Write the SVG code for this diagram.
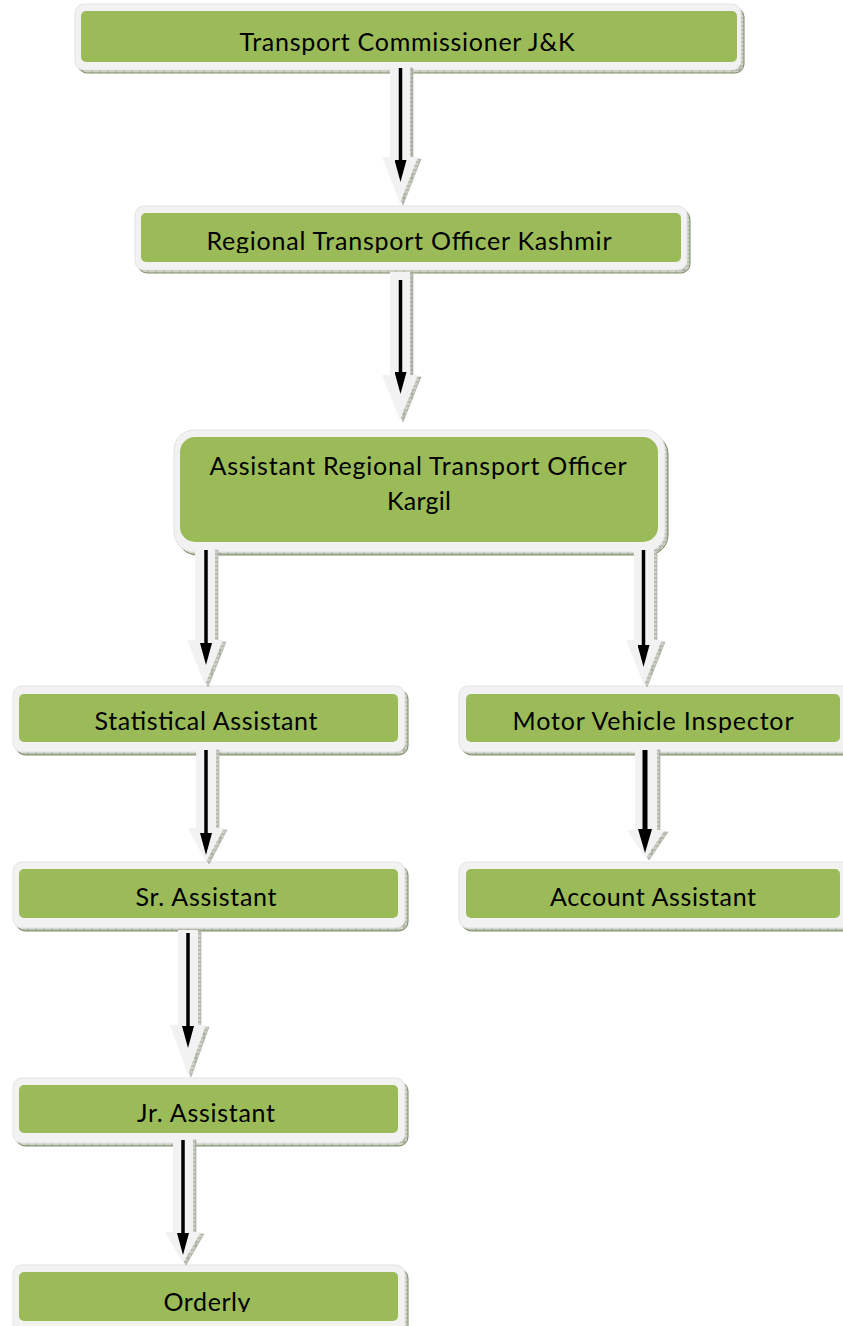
<svg xmlns="http://www.w3.org/2000/svg" width="843" height="1326" viewBox="0 0 843 1326">
<defs>
<style>
.shadow{fill:url(#hatch);stroke:#7d8c66;stroke-width:1}
.outer{fill:#f2f2f2;stroke:#e3e3e3;stroke-width:1}
.inner{fill:#9bbb59}
.lbl{font-family:Lato,"Open Sans","Liberation Sans",sans-serif;font-size:25px;fill:#000;text-anchor:middle}
.blk{fill:#f2f2f2}
.blks{fill:url(#hatch);stroke:#a8a8a8;stroke-width:0.6}
.line{stroke:#000;stroke-width:3.5;fill:none;marker-end:url(#head)}
.line2{stroke:#000;stroke-width:5;fill:none;marker-end:url(#head2)}
</style>
<pattern id="hatch" width="8" height="4" patternUnits="userSpaceOnUse">
<rect width="8" height="4" fill="#cfd2c7"/>
<path d="M0 2H8M4 0V4" stroke="#8a9480" stroke-width="0.7"/>
</pattern>
<marker id="head" viewBox="0 -6 22 12" refX="0" refY="0" markerWidth="22" markerHeight="12" markerUnits="userSpaceOnUse" orient="auto">
<path d="M0 -6L22 0L0 6Z" fill="#000"/>
</marker>
<marker id="head2" viewBox="0 -7 24 14" refX="0" refY="0" markerWidth="24" markerHeight="14" markerUnits="userSpaceOnUse" orient="auto">
<path d="M0 -7L24 0L0 7Z" fill="#000"/>
</marker>
<clipPath id="c1"><rect x="81" y="11" width="656" height="44"/></clipPath>
<clipPath id="c2"><rect x="141" y="213" width="540" height="40"/></clipPath>
<clipPath id="c5"><rect x="466" y="694" width="374" height="39"/></clipPath>
<clipPath id="c9"><rect x="19" y="1272" width="379" height="40"/></clipPath>
</defs>
<rect width="843" height="1326" fill="#fff"/>

<g id="n1">
<rect class="shadow" x="78" y="8" width="666" height="65" rx="9"/>
<rect class="outer" x="75" y="4" width="666" height="66" rx="9"/>
<rect class="inner" x="81" y="11" width="656" height="51" rx="5"/>
<text class="lbl" x="407" y="51" textLength="335" clip-path="url(#c1)">Transport Commissioner J&amp;K</text>
</g>

<g id="n2">
<rect class="shadow" x="138" y="210" width="552" height="63" rx="9"/>
<rect class="outer" x="135" y="206" width="552" height="64" rx="9"/>
<rect class="inner" x="141" y="213" width="540" height="49" rx="5"/>
<text class="lbl" x="409" y="250" textLength="405" clip-path="url(#c2)">Regional Transport Officer Kashmir</text>
</g>

<g id="n3">
<rect class="shadow" x="177" y="434" width="491" height="121" rx="20"/>
<rect class="outer" x="174" y="430" width="491" height="122" rx="20"/>
<rect class="inner" x="180" y="437" width="478" height="105" rx="15"/>
<text class="lbl" x="418" y="475" textLength="417">Assistant Regional Transport Officer</text>
<text class="lbl" x="419" y="510" textLength="64">Kargil</text>
</g>

<g id="n4">
<rect class="shadow" x="16" y="690" width="392" height="65" rx="9"/>
<rect class="outer" x="13" y="686" width="392" height="66" rx="9"/>
<rect class="inner" x="19" y="694" width="379" height="48" rx="5"/>
<text class="lbl" x="206" y="730" textLength="223">Statistical Assistant</text>
</g>

<g id="n5">
<rect class="shadow" x="462" y="690" width="392" height="65" rx="9"/>
<rect class="outer" x="459" y="686" width="392" height="66" rx="9"/>
<rect class="inner" x="466" y="694" width="374" height="48" rx="5"/>
<text class="lbl" x="653" y="730" textLength="281" clip-path="url(#c5)">Motor Vehicle Inspector</text>
</g>

<g id="n6">
<rect class="shadow" x="16" y="866" width="392" height="65" rx="9"/>
<rect class="outer" x="13" y="862" width="392" height="66" rx="9"/>
<rect class="inner" x="19" y="869" width="379" height="49" rx="5"/>
<text class="lbl" x="206" y="906" textLength="141">Sr. Assistant</text>
</g>

<g id="n7">
<rect class="shadow" x="462" y="866" width="392" height="65" rx="9"/>
<rect class="outer" x="459" y="862" width="392" height="66" rx="9"/>
<rect class="inner" x="466" y="869" width="374" height="49" rx="5"/>
<text class="lbl" x="653" y="906" textLength="206">Account Assistant</text>
</g>

<g id="n8">
<rect class="shadow" x="16" y="1082" width="392" height="64" rx="9"/>
<rect class="outer" x="13" y="1078" width="392" height="65" rx="9"/>
<rect class="inner" x="19" y="1085" width="379" height="48" rx="5"/>
<text class="lbl" x="206" y="1122" textLength="138">Jr. Assistant</text>
</g>

<g id="n9">
<rect class="shadow" x="16" y="1269" width="392" height="70" rx="9"/>
<rect class="outer" x="13" y="1265" width="392" height="70" rx="9"/>
<rect class="inner" x="19" y="1272" width="379" height="49" rx="5"/>
<text class="lbl" x="207" y="1311" textLength="87" clip-path="url(#c9)">Orderly</text>
</g>

<g id="connectors">
<path class="blks" d="M393 68H413V159H421L403 205L385 159H393Z"/>
<path class="blk" d="M390 66H410V157H418L400 203L382 157H390Z"/>
<path class="line" d="M400.5 68V160"/>
<path class="blks" d="M393 274H413V377H421L403 422L385 377H393Z"/>
<path class="blk" d="M390 272H410V375H418L400 420L382 375H390Z"/>
<path class="line" d="M400.5 280V372"/>
<path class="blks" d="M198 550H218V642H226L208 687L190 642H198Z"/>
<path class="blk" d="M195 548H215V640H223L205 685L187 640H195Z"/>
<path class="line" d="M206 550V643"/>
<path class="blks" d="M637 550H657V642H665L647 687L629 642H637Z"/>
<path class="blk" d="M634 548H654V640H662L644 685L626 640H634Z"/>
<path class="line" d="M643.5 550V645"/>
<path class="blks" d="M199 750H219V830H227L209 864L191 830H199Z"/>
<path class="blk" d="M196 748H216V828H224L206 862L188 828H196Z"/>
<path class="line" d="M206 750V833"/>
<path class="blks" d="M638 750H660V832H668L649 860L630 832H638Z"/>
<path class="blk" d="M635 748H657V830H665L646 858L627 830H635Z"/>
<path class="line2" d="M645 750V829"/>
<path class="blks" d="M181 932H201V1027H209L191 1077L173 1027H181Z"/>
<path class="blk" d="M178 930H198V1025H206L188 1075L170 1025H178Z"/>
<path class="line" d="M188 933V1026"/>
<path class="blks" d="M176 1140H196V1234H204L186 1265L168 1234H176Z"/>
<path class="blk" d="M173 1138H193V1232H201L183 1263L165 1232H173Z"/>
<path class="line" d="M183 1140V1233"/>
</g>
</svg>
